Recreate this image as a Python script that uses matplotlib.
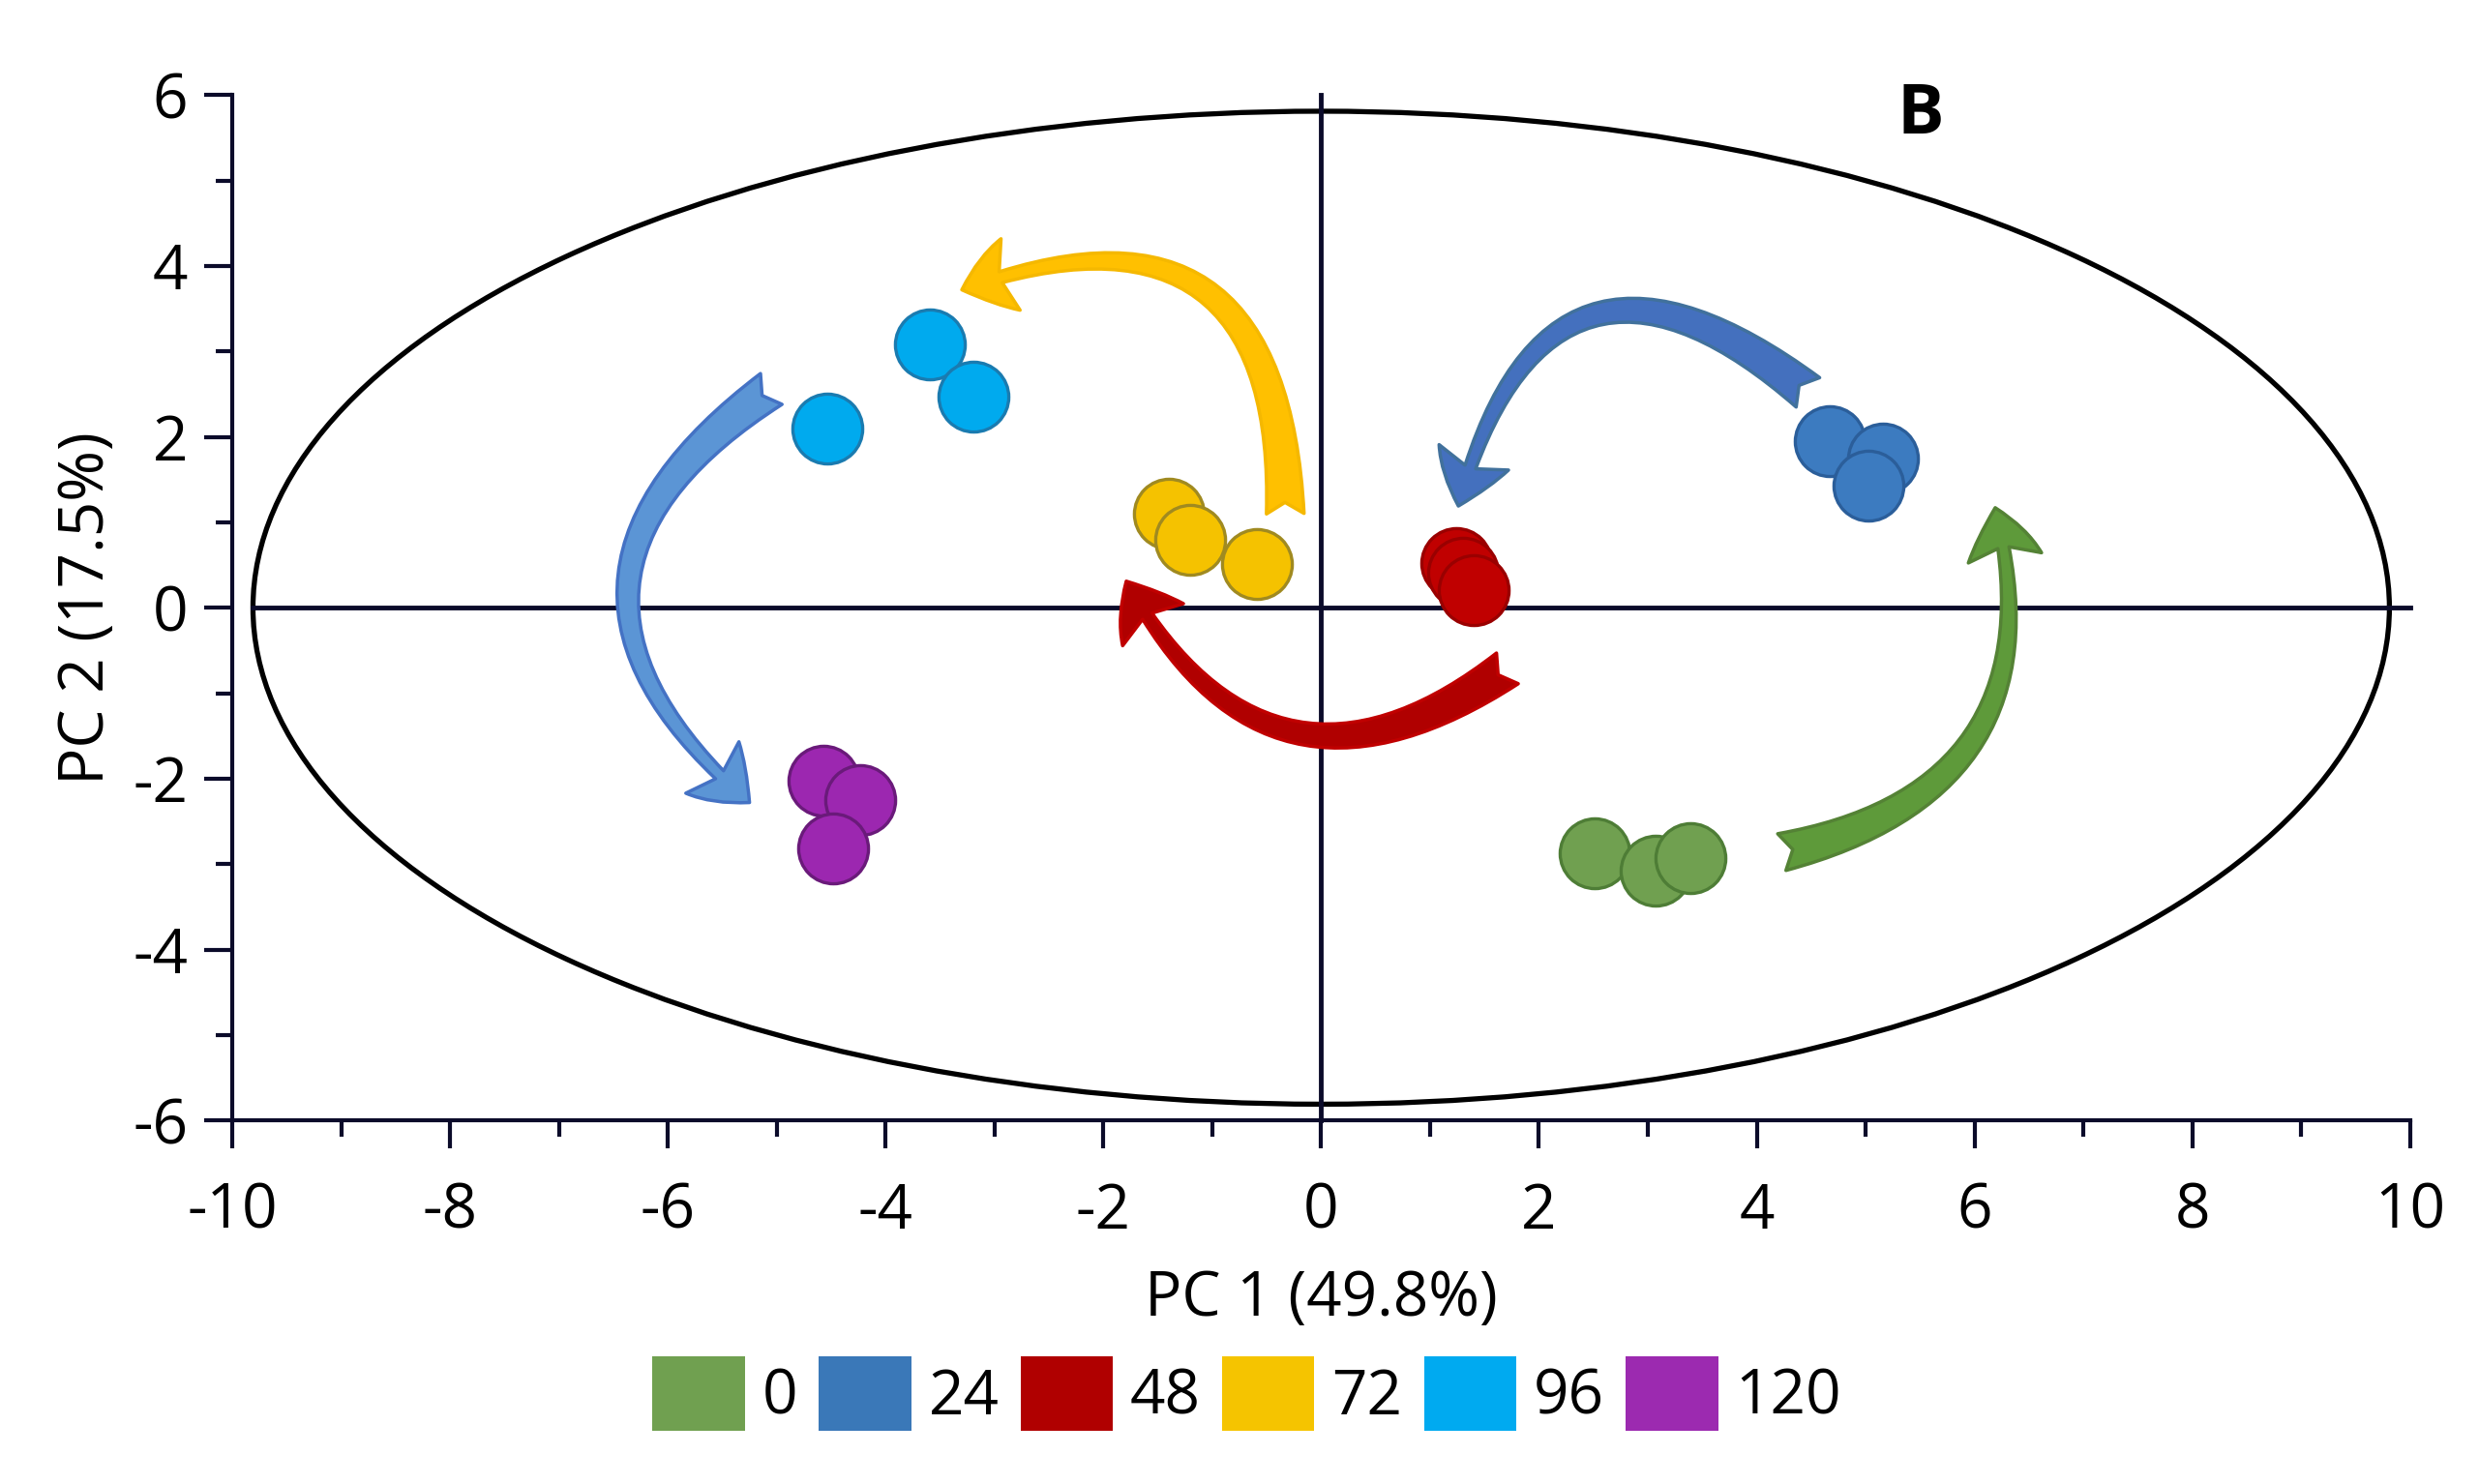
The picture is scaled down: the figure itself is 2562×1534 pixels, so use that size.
import matplotlib
matplotlib.use('Agg')
import matplotlib.pyplot as plt
from matplotlib.patches import Ellipse, FancyArrowPatch, Patch

plt.rcParams['font.family'] = ['Open Sans', 'DejaVu Sans']
plt.rcParams['axes.unicode_minus'] = False

# PCA scores
groups = ['0', '24', '48', '72', '96', '120']
pc1 = {
    '0': [2.51, 3.07, 3.39],
    '24': [4.67, 5.16, 5.03],
    '48': [1.24, 1.30, 1.40],
    '72': [-1.40, -1.20, -0.59],
    '96': [-3.59, -3.19, -4.54],
    '120': [-4.57, -4.23, -4.48],
}
pc2 = {
    '0': [-2.87, -3.08, -2.93],
    '24': [1.95, 1.75, 1.43],
    '48': [0.52, 0.41, 0.21],
    '72': [1.10, 0.80, 0.51],
    '96': [3.08, 2.47, 2.10],
    '120': [-2.02, -2.25, -2.82],
}
face = {'0': '#70A050', '24': '#3C7BC0', '48': '#C00000',
        '72': '#F5C200', '96': '#00AAEE', '120': '#9C27B0'}
edge = {'0': '#4E7D36', '24': '#2B5E9A', '48': '#9A0000',
        '72': '#A08A20', '96': '#1A7BB0', '120': '#6A1A7A'}
legend_col = ['#70A050', '#3A78B8', '#B00000', '#F5C400', '#00AAF0', '#9C2AB0']

# Hotelling ellipse half-axes
ell_a, ell_b = 9.81, 5.81

# trajectory arrows: tail, head, bend, fill, border
arr_tail = [(4.47, 2.52), (4.23, -2.86), (1.71, -0.71), (-0.33, 1.10), (-5.05, 2.56)]
arr_head = [(1.26, 1.19), (6.19, 1.17), (-1.79, 0.31), (-3.30, 3.72), (-5.25, -2.28)]
arr_rad = [0.76, 0.51, -0.56, 0.70, 0.64]
arr_face = ['#4470BE', '#5E9A3A', '#B00000', '#FFC000', '#5B95D5']
arr_edge = ['#41719C', '#548235', '#C00000', '#F5B800', '#4472C4']

axcol = '#0B0B2A'
fs = 46

fig = plt.figure(figsize=(25.62, 15.34), dpi=100)
ax = fig.add_axes([0.0937, 0.245, 0.8785, 0.691])

ax.add_patch(Ellipse((0, 0), 2 * ell_a, 2 * ell_b, fill=False, ec='black', lw=3.8, zorder=2))
ax.plot([-ell_a, 10], [0, 0], color=axcol, lw=3.5, zorder=2, clip_on=False)
ax.plot([0, 0], [-6, 6], color=axcol, lw=3.5, zorder=2, clip_on=False)

for t, h, r, fc, ec in zip(arr_tail, arr_head, arr_rad, arr_face, arr_edge):
    a = FancyArrowPatch(t, h, connectionstyle='arc3,rad=%s' % r,
                        arrowstyle='fancy,head_width=0.55,head_length=0.38,tail_width=0.28',
                        mutation_scale=100, fc=fc, ec=ec, lw=2.5,
                        shrinkA=0, shrinkB=0, zorder=3)
    ax.add_patch(a)

for g in groups:
    ax.scatter(pc1[g], pc2[g], s=2700, c=face[g], edgecolors=edge[g], linewidths=2.4, zorder=4)

ax.text(5.5, 5.55, 'B', fontsize=52, fontweight='bold', ha='center', va='baseline', zorder=5)

ax.set_xlim(-10, 10)
ax.set_ylim(-6, 6)
ax.set_xticks(range(-10, 11, 2))
ax.set_yticks(range(-6, 7, 2))
ax.set_xticks(range(-10, 11, 1), minor=True)
ax.set_yticks(range(-6, 7, 1), minor=True)
for s in ['top', 'right']:
    ax.spines[s].set_visible(False)
for s in ['left', 'bottom']:
    ax.spines[s].set_color(axcol)
    ax.spines[s].set_linewidth(3)
ax.tick_params(which='major', length=21, width=3, color=axcol, labelsize=fs, direction='out')
ax.tick_params(which='minor', length=12, width=3, color=axcol, direction='out')
ax.tick_params(axis='x', which='major', pad=24)
ax.tick_params(axis='y', which='major', pad=12)

ax.set_xlabel('PC 1 (49.8%)', fontsize=fs)
ax.set_ylabel('PC 2 (17.5%)', fontsize=fs)
ax.xaxis.set_label_coords(0.5, -0.1745)
ax.xaxis.label.set_va('center')
ax.yaxis.set_label_coords(-0.0667, 0.5)
ax.yaxis.label.set_va('center')

handles = [Patch(facecolor=c, edgecolor='none') for c in legend_col]
fig.legend(handles, groups, loc='center', bbox_to_anchor=(0.503, 0.061), ncol=6,
           frameon=False, fontsize=fs, handlelength=1.49, handleheight=1.49,
           handletextpad=0.28, columnspacing=0.35, borderpad=0)

fig.savefig('out.png', dpi=100)
